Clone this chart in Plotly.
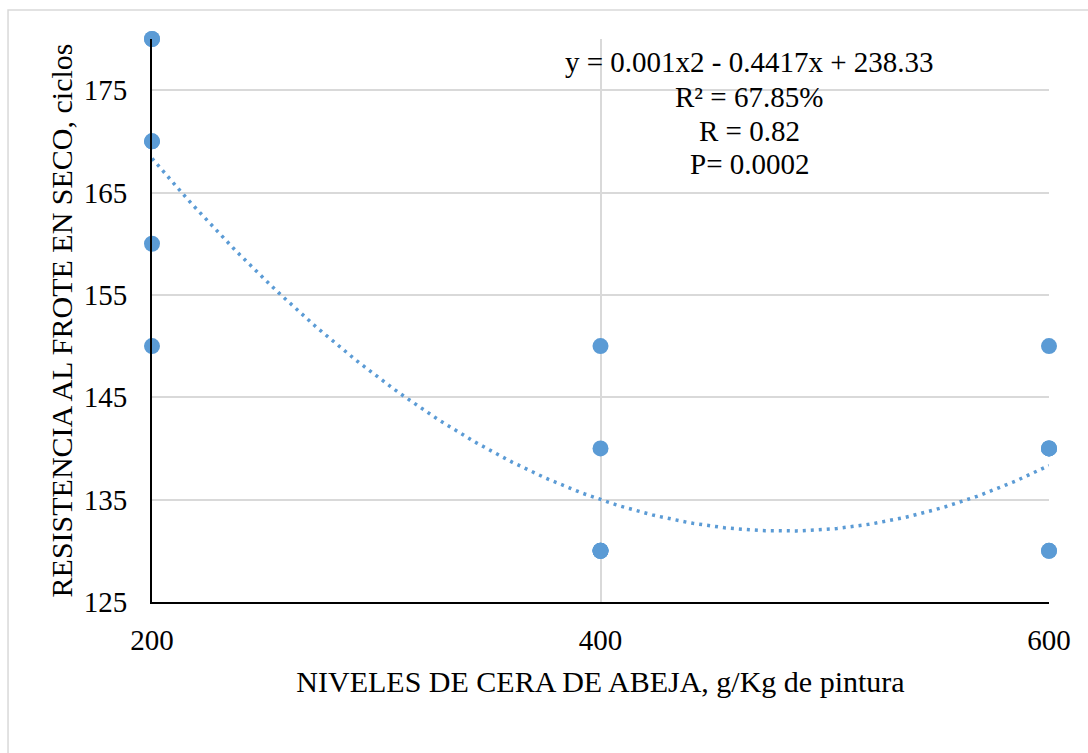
import numpy as np
import plotly.graph_objects as go

# Data (repeated observations overlap at the same points)
niveles = [200, 200, 200, 200, 200, 200,
           400, 400, 400, 400, 400, 400,
           600, 600, 600, 600, 600, 600]
resistencia = [180, 180, 170, 170, 160, 150,
               150, 140, 130, 130, 130, 130,
               150, 140, 140, 140, 130, 130]

eq_lines = ["y = 0.001x2 - 0.4417x + 238.33", "R² = 67.85%", "R = 0.82", "P= 0.0002"]
x_title = "NIVELES DE CERA DE ABEJA, g/Kg de pintura"
y_title = "RESISTENCIA AL FROTE EN SECO, ciclos"
x_ticks = [200, 400, 600]

coef = np.polyfit(niveles, resistencia, 2)
xt = np.linspace(min(niveles), max(niveles), 200)
yt = np.polyval(coef, xt)

BLUE = "#5B9BD5"
FONT = "Liberation Serif"

fig = go.Figure()
fig.add_trace(go.Scatter(x=xt, y=yt, mode="lines",
                         line=dict(color=BLUE, width=3.5, dash="3px,5px"),
                         hoverinfo="skip", showlegend=False))
fig.add_trace(go.Scatter(x=niveles, y=resistencia, mode="markers",
                         marker=dict(color=BLUE, size=16),
                         showlegend=False, cliponaxis=False))

# equation box line centres (pixels from top of page) -> paper coords
PLOT_TOP, PLOT_BOTTOM = 39, 602
line_px = [62, 97, 131, 164]
annotations = []
for txt, py in zip(eq_lines, line_px):
    annotations.append(dict(text=txt, xref="paper", yref="paper",
                            x=0.6656, y=(PLOT_BOTTOM - py) / (PLOT_BOTTOM - PLOT_TOP),
                            xanchor="center", yanchor="middle",
                            showarrow=False,
                            font=dict(family=FONT, size=29, color="black")))

fig.update_layout(
    width=1088, height=753,
    margin=dict(l=152, r=39, t=39, b=151),
    paper_bgcolor="white", plot_bgcolor="white",
    font=dict(family=FONT, size=29, color="black"),
    xaxis=dict(range=[200, 600], tickvals=x_ticks, showgrid=True,
               gridcolor="#d9d9d9", gridwidth=1.5,
               showline=True, linecolor="black", linewidth=2,
               zeroline=False, ticks="", ticklabelstandoff=11,
               tickfont=dict(size=29),
               title=dict(text=x_title, standoff=16, font=dict(size=30))),
    yaxis=dict(range=[125, 180], tick0=125, dtick=10, showgrid=True,
               gridcolor="#d9d9d9", gridwidth=1.5,
               showline=True, linecolor="black", linewidth=2,
               zeroline=False, ticks="", ticklabelstandoff=17,
               tickfont=dict(size=29),
               title=dict(text=y_title, standoff=2, font=dict(size=30))),
    annotations=annotations,
    shapes=[dict(type="rect", xref="paper", yref="paper",
                 x0=-0.1605, x1=1.3, y0=-0.6, y1=1.0515,
                 line=dict(color="#d9d9d9", width=1.5), layer="below")],
)

fig.write_html("out.html")
